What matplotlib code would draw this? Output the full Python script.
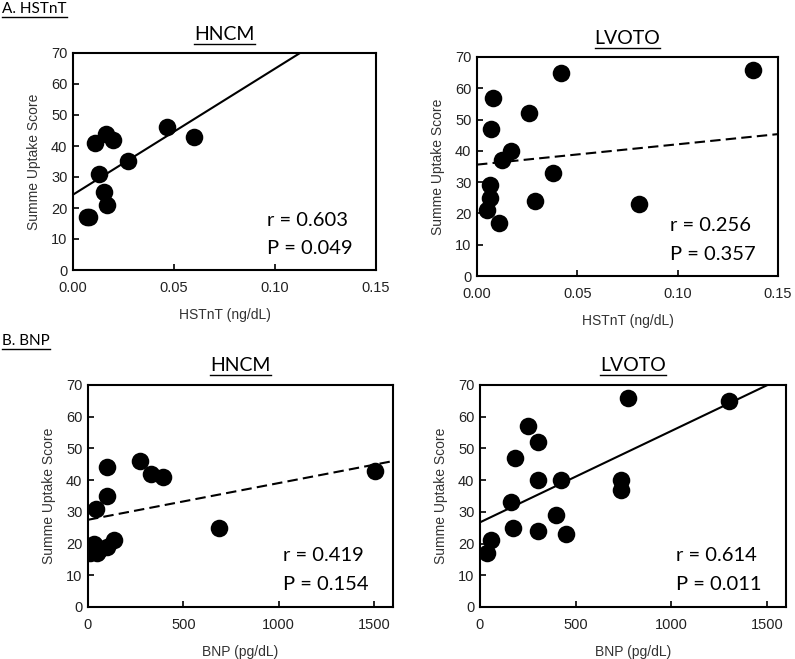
import matplotlib
matplotlib.use("Agg")
import matplotlib.pyplot as plt
from matplotlib.lines import Line2D
import numpy as np

# ---- data ----
a_hncm_x = [0.007, 0.008, 0.011, 0.013, 0.0155, 0.0165, 0.017, 0.020, 0.027, 0.0465, 0.060]
a_hncm_y = [17, 17, 41, 31, 25, 44, 21, 42, 35, 46, 43]
a_hncm_fit = [24.3, 406.6]   # intercept, slope

a_lvoto_x = [0.005, 0.0066, 0.0066, 0.0068, 0.008, 0.0108, 0.0126, 0.0168, 0.026, 0.029, 0.038, 0.042, 0.0806, 0.1375]
a_lvoto_y = [21, 25, 29, 47, 57, 17, 37, 40, 52, 24, 33, 65, 23, 66]
a_lvoto_fit = [35.6, 65.0]

b_hncm_x = [10, 30, 45, 60, 100, 135, 43, 99, 102, 272, 328, 394, 688, 1503]
b_hncm_y = [17, 20, 17, 18, 19, 21, 31, 35, 44, 46, 42, 41, 25, 43]
b_hncm_fit = [27.5, 0.01157]

b_lvoto_x = [38, 56, 160, 174, 183, 252, 304, 301, 304, 397, 421, 449, 739, 739, 774, 1301]
b_lvoto_y = [17, 21, 33, 25, 47, 57, 52, 40, 24, 29, 40, 23, 40, 37, 66, 65]
b_lvoto_fit = [26.7, 0.0288]

stats = [("r = 0.603", "P = 0.049"), ("r = 0.256", "P = 0.357"),
         ("r = 0.419", "P = 0.154"), ("r = 0.614", "P = 0.011")]
titles = ["HNCM", "LVOTO", "HNCM", "LVOTO"]
section_labels = ["A. HSTnT", "B. BNP"]
y_label = "Summe Uptake Score"
x_labels = ["HSTnT (ng/dL)", "HSTnT (ng/dL)", "BNP (pg/dL)", "BNP (pg/dL)"]
hst_ticks = [0.00, 0.05, 0.10, 0.15]
hst_ticklabels = ["0.00", "0.05", "0.10", "0.15"]
bnp_ticks = [0, 500, 1000, 1500]
y_ticks = [0, 10, 20, 30, 40, 50, 60, 70]

W, H = 795, 659
fig = plt.figure(figsize=(W / 100, H / 100), dpi=100)

def fpos(l, r, t, b):
    return [l / W, 1 - b / H, (r - l) / W, (b - t) / H]

positions = [fpos(73, 376, 53, 270), fpos(477, 778, 57, 276),
             fpos(88, 393, 385, 607), fpos(480, 786, 385, 607)]
xs = [a_hncm_x, a_lvoto_x, b_hncm_x, b_lvoto_x]
ys = [a_hncm_y, a_lvoto_y, b_hncm_y, b_lvoto_y]
fits = [a_hncm_fit, a_lvoto_fit, b_hncm_fit, b_lvoto_fit]
styles = ["-", (0, (5, 2.5)), (0, (5, 2.5)), "-"]
xlims = [(0, 0.15), (0, 0.15), (0, 1600), (0, 1600)]

tick_font = "Liberation Sans"
cal_font = "Lato"

title_texts = []
for i in range(4):
    ax = fig.add_axes(positions[i])
    ax.set_xlim(*xlims[i])
    ax.set_ylim(0, 70)
    ax.scatter(xs[i], ys[i], s=160, color="black", zorder=3, linewidths=0)
    x0, x1 = xlims[i]
    lx = np.array([x0, x1])
    ax.plot(lx, fits[i][0] + fits[i][1] * lx, color="black", lw=1.5,
            linestyle=styles[i], zorder=2)
    if i < 2:
        ax.set_xticks(hst_ticks)
        ax.set_xticklabels(hst_ticklabels)
    else:
        ax.set_xticks(bnp_ticks)
    ax.set_yticks(y_ticks)
    ax.tick_params(direction="in", length=4, width=1.2, labelsize=10.5,
                   colors="black")
    ax.tick_params(axis="x", pad=8)
    ax.tick_params(axis="y", pad=4)
    for lab in ax.get_xticklabels() + ax.get_yticklabels():
        lab.set_fontfamily(tick_font)
        lab.set_color("#222222")
    for sp in ax.spines.values():
        sp.set_linewidth(1.5)
    ax.set_ylabel(y_label, fontsize=10, family=tick_font, color="#333333", labelpad=7)
    ax.set_xlabel(x_labels[i], fontsize=10, family=tick_font, color="#333333", labelpad=9)
    ax.text(0.64, 0.23, stats[i][0], transform=ax.transAxes, fontsize=14.5,
            family=cal_font, va="center", ha="left")
    ax.text(0.64, 0.10, stats[i][1], transform=ax.transAxes, fontsize=14.5,
            family=cal_font, va="center", ha="left")
    cx = (positions[i][0] + positions[i][2] / 2)
    ty = positions[i][1] + positions[i][3] + 19 / H
    t = fig.text(cx, ty, titles[i], fontsize=14, family=cal_font,
                 ha="center", va="center")
    title_texts.append(t)

sec = []
sec.append(fig.text(2 / W, 1 - 9 / H, section_labels[0], fontsize=11,
                    family=cal_font, ha="left", va="center"))
sec.append(fig.text(2 / W, 1 - 341 / H, section_labels[1], fontsize=11,
                    family=cal_font, ha="left", va="center"))

fig.canvas.draw()
r = fig.canvas.get_renderer()
for t in title_texts + sec:
    bb = t.get_window_extent(renderer=r)
    yl = (bb.y0 - 1) / (H)
    fig.add_artist(Line2D([bb.x0 / W, bb.x1 / W], [yl, yl],
                          transform=fig.transFigure, color="black", lw=1.0))

fig.savefig("out.png", dpi=100)
